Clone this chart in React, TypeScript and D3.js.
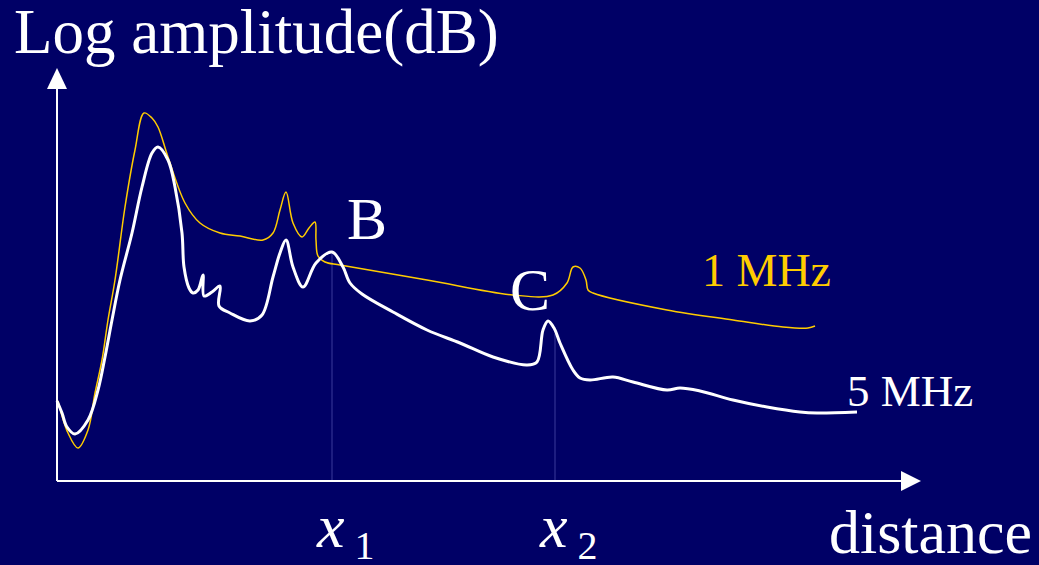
import React from 'react';
import * as d3 from 'd3';

// distance / amplitude readings (arbitrary units, origin at the axes corner)
const whiteDist = [0,5,10,18,31,41,48,55,63,75,85,95,101,111,118,125,127,132,136,141,146,147,155,163,162,173,193,205,216,223,229,236,246,259,275,286,293,305,336,370,403,436,470,480,486,491,497,503,516,523,533,556,576,610,623,643,676,710,743,760,800];
const whiteAmp  = [80,68,54,47,61,91,124,161,201,248,294,328,334,321,294,248,214,193,188,191,206,185,189,195,175,168,160,166,204,228,241,214,194,218,229,214,198,187,169,151,138,124,116,119,151,160,153,138,111,103,101,104,99,91,93,90,81,74,69,68,69];

const goldDist = [1,11,21,31,38,45,51,58,68,78,87,95,101,111,128,143,163,183,206,216,223,229,236,245,252,258,259,261,268,283,370,456,496,510,516,523,529,531,536,610,676,726,751,758];
const goldAmp  = [80,48,33,51,88,121,161,201,274,331,368,363,354,324,278,258,248,245,241,248,271,289,258,244,253,259,241,225,219,216,201,186,186,198,214,213,201,191,188,171,161,154,153,155];

const markerDist = [275, 498];
const markerTop = [229, 147];
const markerSub = ['1', '2'];

const width = 1039;
const height = 565;
const bg = '#000066';
const gold = '#ffcc00';
const serif = 'Liberation Serif';

const x = d3.scaleLinear().domain([0, 864]).range([57, 921]);
const y = d3.scaleLinear().domain([0, 413]).range([481, 68]);

const line = d3.line<[number, number]>()
  .x(d => x(d[0]))
  .y(d => y(d[1]))
  .curve(d3.curveCatmullRom.alpha(0.5));

const App = () => {
  const white = whiteDist.map((d, i) => [d, whiteAmp[i]] as [number, number]);
  const goldPts = goldDist.map((d, i) => [d, goldAmp[i]] as [number, number]);
  const x0 = x(0), y0 = y(0), xEnd = x(864), yEnd = y(413);

  return (
    <svg width={width} height={height} style={{position: 'absolute', left: 0, top: 0}}>
      <rect width={width} height={height} fill={bg} />

      {markerDist.map((d, i) => (
        <line key={i} x1={x(d)} x2={x(d)} y1={y(markerTop[i])} y2={y0}
          stroke="#3b3b9a" strokeWidth={1} />
      ))}

      {/* axes */}
      <line x1={x0} x2={x0} y1={y0} y2={yEnd + 20} stroke="white" strokeWidth={2} />
      <polygon points={`${x0 - 10},${yEnd + 21} ${x0 + 10},${yEnd + 21} ${x0},${yEnd}`} fill="white" />
      <line x1={x0} x2={xEnd - 19} y1={y0} y2={y0} stroke="white" strokeWidth={2} />
      <polygon points={`${xEnd - 20},${y0 - 10} ${xEnd - 20},${y0 + 10} ${xEnd},${y0}`} fill="white" />

      <path d={line(goldPts) || ''} fill="none" stroke={gold} strokeWidth={1.5} />
      <path d={line(white) || ''} fill="none" stroke="white" strokeWidth={3} />

      <g style={{fontFamily: serif}} fill="white">
        <text x={14} y={53} fontSize={63}>Log amplitude(dB)</text>
        <text x={829} y={553} fontSize={62}>distance</text>
        <text x={347} y={239} fontSize={60}>B</text>
        <text x={510} y={310} fontSize={60}>C</text>
        <text x={847} y={406} fontSize={45}>5 MHz</text>
        <text x={702} y={286} fontSize={46} fill={gold}>1 MHz</text>
        {markerDist.map((d, i) => (
          <text key={i} x={x(d) - 15} y={547} fontSize={62}>
            <tspan fontStyle="italic">x</tspan>
            <tspan dx={10} dy={12} fontSize={40}>{markerSub[i]}</tspan>
          </text>
        ))}
      </g>
    </svg>
  );
};

export default App;
